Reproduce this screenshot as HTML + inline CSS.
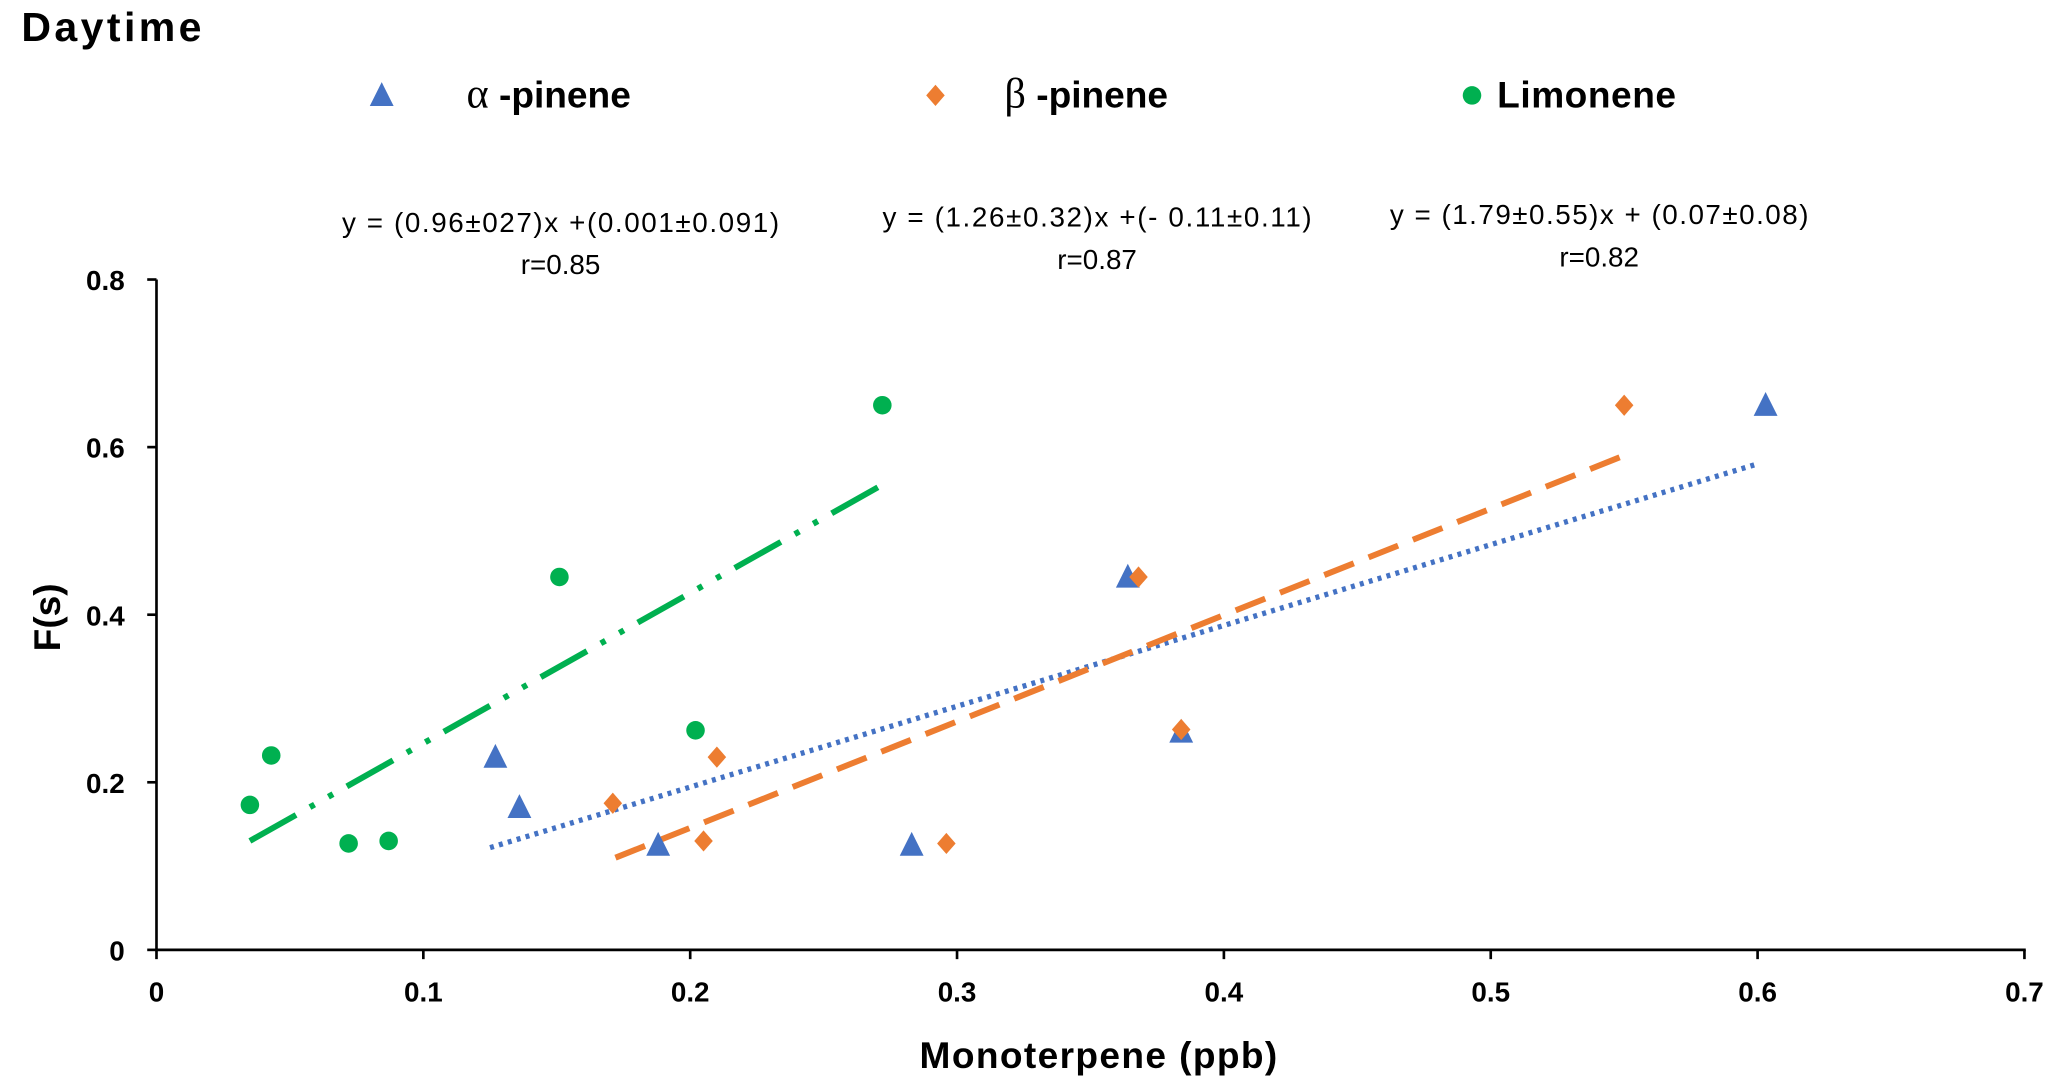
<!DOCTYPE html>
<html><head><meta charset="utf-8"><style>
html,body{margin:0;padding:0;background:#fff;}
svg{display:block;}
text{font-family:"Liberation Sans",sans-serif;}
</style></head><body>
<svg id="chart" width="2067" height="1085" viewBox="0 0 1560 819" xmlns="http://www.w3.org/2000/svg">
<text x="16" y="31" font-size="31" font-weight="bold" textLength="136">Daytime</text>
<g>
 <polygon points="288,62 279,80 297,80" fill="#4472C4"/>
 <text x="352" y="81" font-size="28" font-weight="bold"><tspan font-weight="normal" font-family="Liberation Serif,serif" font-size="32">α</tspan> -pinene</text>
 <polygon points="706,64 713,72 706,80 699,72" fill="#ED7D31"/>
 <text x="758" y="81" font-size="28" font-weight="bold"><tspan font-weight="normal" font-family="Liberation Serif,serif" font-size="32">β</tspan> -pinene</text>
 <circle cx="1111" cy="72" r="7" fill="#00B050"/>
 <text x="1130" y="81" font-size="28" font-weight="bold" textLength="135">Limonene</text>
</g>
<g font-size="21" text-anchor="middle">
 <text x="423" y="175" textLength="330">y = (0.96±027)x +(0.001±0.091)</text>
 <text x="423" y="207">r=0.85</text>
 <text x="828" y="171" textLength="324">y = (1.26±0.32)x +(- 0.11±0.11)</text>
 <text x="828" y="203">r=0.87</text>
 <text x="1207" y="169" textLength="316">y = (1.79±0.55)x + (0.07±0.08)</text>
 <text x="1207" y="201">r=0.82</text>
</g>
<g id="axes"></g>
<g id="marks"></g>
<text x="829" y="806" font-size="28" font-weight="bold" text-anchor="middle" textLength="270">Monoterpene (ppb)</text>
<text transform="translate(45,466) rotate(-90)" font-size="28" font-weight="bold" text-anchor="middle">F(s)</text>
</svg>
<script>
const xTicks=[0,0.1,0.2,0.3,0.4,0.5,0.6,0.7];
const yTicks=[0,0.2,0.4,0.6,0.8];
const alphaX=[0.127,0.136,0.188,0.283,0.364,0.384,0.603];
const alphaY=[0.23,0.17,0.125,0.125,0.445,0.26,0.65];
const betaX=[0.171,0.205,0.21,0.296,0.368,0.384,0.55];
const betaY=[0.175,0.13,0.23,0.127,0.445,0.263,0.65];
const limX=[0.035,0.043,0.072,0.087,0.151,0.202,0.272];
const limY=[0.173,0.232,0.127,0.13,0.445,0.262,0.65];
const limTrend=[[0.035,0.13],[0.272,0.555]];
const alphaTrend=[[0.125,0.122],[0.6,0.58]];
const betaTrend=[[0.172,0.11],[0.55,0.59]];
const NS="http://www.w3.org/2000/svg";
const X0=118,X1=1528,Y0=717,Y1=211;
const X=v=>X0+v*(X1-X0)/0.7;
const Y=v=>Y0-v*(Y0-Y1)/0.8;
function mk(tag,attrs,parent){const e=document.createElementNS(NS,tag);for(const k in attrs)e.setAttribute(k,attrs[k]);parent.appendChild(e);return e;}
const axes=document.getElementById('axes'),marks=document.getElementById('marks');
let e=mk('line',{x1:X0,y1:Y1,x2:X0,y2:Y0,stroke:'#000','stroke-width':2},axes);


e=mk('line',{x1:X0-1,y1:Y0,x2:X1+1,y2:Y0,stroke:'#000','stroke-width':2},axes);


xTicks.forEach(t=>{
 const tk=mk('line',{x1:X(t),y1:Y0,x2:X(t),y2:Y0+7,stroke:'#000','stroke-width':2},axes);
 
 
 const l=mk('text',{x:X(t),y:Y0+39,'font-size':21,'font-weight':'bold','text-anchor':'middle'},axes);
 l.textContent=String(t);
 
 
});
yTicks.forEach(t=>{
 const tk=mk('line',{x1:X0-7,y1:Y(t),x2:X0,y2:Y(t),stroke:'#000','stroke-width':2},axes);
 
 
 const l=mk('text',{x:94,y:Y(t)+8,'font-size':21,'font-weight':'bold','text-anchor':'end'},axes);
 l.textContent=String(t);
 
 
});
let tl=mk('line',{x1:X(limTrend[0][0]),y1:Y(limTrend[0][1]),x2:X(limTrend[1][0]),y2:Y(limTrend[1][1]),stroke:'#00B050','stroke-width':4.5,'stroke-dasharray':'40 12 4 12 4 12'},marks);


tl=mk('line',{x1:X(alphaTrend[0][0]),y1:Y(alphaTrend[0][1]),x2:X(alphaTrend[1][0]),y2:Y(alphaTrend[1][1]),stroke:'#4472C4','stroke-width':4,'stroke-dasharray':'3 4'},marks);


tl=mk('line',{x1:X(betaTrend[0][0]),y1:Y(betaTrend[0][1]),x2:X(betaTrend[1][0]),y2:Y(betaTrend[1][1]),stroke:'#ED7D31','stroke-width':4.5,'stroke-dasharray':'24 12'},marks);


limX.forEach((x,i)=>{
 const c=mk('circle',{cx:X(x),cy:Y(limY[i]),r:7,fill:'#00B050'},marks);
 
 
});
alphaX.forEach((x,i)=>{
 const cx=X(x),cy=Y(alphaY[i]);
 const p=mk('polygon',{points:`${cx},${cy-10} ${cx-9},${cy+8} ${cx+9},${cy+8}`,fill:'#4472C4'},marks);
 
 
});
betaX.forEach((x,i)=>{
 const cx=X(x),cy=Y(betaY[i]);
 const p=mk('polygon',{points:`${cx},${cy-8} ${cx+7},${cy} ${cx},${cy+8} ${cx-7},${cy}`,fill:'#ED7D31'},marks);
 
 
});
</script>
</body></html>
